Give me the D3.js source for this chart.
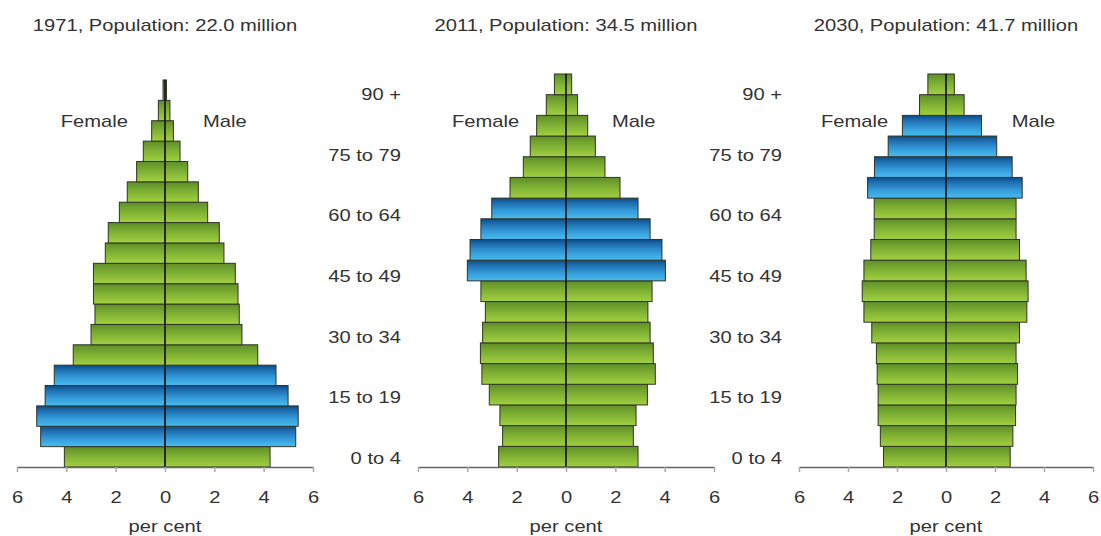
<!DOCTYPE html>
<html>
<head>
<meta charset="utf-8">
<script src="https://cdn.jsdelivr.net/npm/d3@7/dist/d3.min.js"></script>
<style>
  html, body { margin: 0; padding: 0; background: #fff; }
  svg { display: block; }
  text { font-family: "Liberation Sans", Arial, Helvetica, sans-serif; fill: #333; }
</style>
</head>
<body>
<svg id="chart" width="1101" height="536"></svg>
<script>
// ---------------- DATA ----------------
const ageGroups = ["0 to 4","5 to 9","10 to 14","15 to 19","20 to 24","25 to 29","30 to 34","35 to 39",
  "40 to 44","45 to 49","50 to 54","55 to 59","60 to 64","65 to 69","70 to 74","75 to 79","80 to 84","85 to 89","90 +"];
const ageTickLabels = ["0 to 4","15 to 19","30 to 34","45 to 49","60 to 64","75 to 79","90 +"];
const xTickValues = [-6,-4,-2,0,2,4,6];

const titles = ["1971, Population: 22.0 million","2011, Population: 34.5 million","2030, Population: 41.7 million"];

const female1971 = [4.08,5.04,5.20,4.86,4.49,3.72,3.00,2.84,2.90,2.90,2.42,2.30,1.85,1.53,1.15,0.88,0.54,0.27,0.08];
const male1971   = [4.26,5.30,5.40,4.99,4.50,3.76,3.12,3.01,2.96,2.85,2.39,2.20,1.73,1.35,0.92,0.61,0.34,0.20,0.06];
const female2011 = [2.73,2.57,2.68,3.11,3.41,3.47,3.38,3.27,3.45,4.00,3.89,3.45,3.01,2.27,1.73,1.45,1.19,0.80,0.47];
const male2011   = [2.92,2.73,2.84,3.30,3.62,3.54,3.41,3.32,3.49,4.03,3.89,3.41,2.92,2.19,1.58,1.19,0.88,0.47,0.23];
const female2030 = [2.55,2.68,2.77,2.77,2.81,2.84,3.03,3.35,3.42,3.35,3.07,2.93,2.93,3.20,2.92,2.36,1.78,1.08,0.74];
const male2030   = [2.62,2.73,2.84,2.86,2.92,2.86,3.00,3.30,3.35,3.27,3.00,2.86,2.86,3.11,2.70,2.07,1.45,0.74,0.34];

// baby-boom cohort highlighted in blue
const boom1971 = ["5 to 9","10 to 14","15 to 19","20 to 24"];
const boom2011 = ["45 to 49","50 to 54","55 to 59","60 to 64"];
const boom2030 = ["65 to 69","70 to 74","75 to 79","80 to 84"];

// ---------------- LAYOUT ----------------
const panels = [
  {title: titles[0], female: female1971, male: male1971, boom: boom1971, x0: 17, x1: 313, top: 80, yLabels: false, fLab: -1.5, mLab: 1.54},
  {title: titles[1], female: female2011, male: male2011, boom: boom2011, x0: 418, x1: 714, top: 74, yLabels: true, fLab: -1.9, mLab: 1.86},
  {title: titles[2], female: female2030, male: male2030, boom: boom2030, x0: 799, x1: 1093, top: 74, yLabels: true, fLab: -2.36, mLab: 2.68}
];
const bottom = 467;
const SX = 1.26;       // horizontal text stretch of the reference
const FS = 16;

const svg = d3.select("#chart");
const defs = svg.append("defs");

function grad(id, stops) {
  const g = defs.append("linearGradient").attr("id", id)
    .attr("x1", 0).attr("y1", 0).attr("x2", 0).attr("y2", 1);
  stops.forEach(s => g.append("stop").attr("offset", s[0]).attr("stop-color", s[1]));
}
grad("gGreen", [[0, "#5f8e28"], [0.45, "#7daf33"], [1, "#a2d040"]]);
grad("gBlue",  [[0, "#0a4a85"], [0.2, "#1c69ab"], [0.6, "#3499d8"], [1, "#48bcf0"]]);

function stext(g, x, y, str, anchor) {
  return g.append("text")
    .attr("transform", `translate(${x},${y}) scale(${SX},1)`)
    .attr("text-anchor", anchor || "middle")
    .style("font-size", FS + "px")
    .text(str);
}

const yLab = d3.scaleBand().domain(ageGroups).range([469, 85]);

panels.forEach(p => {
  const g = svg.append("g");
  const x = d3.scaleLinear().domain([-6, 6]).range([p.x0, p.x1]);
  const y = d3.scaleBand().domain(ageGroups).range([bottom, p.top]);
  const rows = ageGroups.map((a, i) => ({age: a, f: p.female[i], m: p.male[i], boom: p.boom.includes(a)}));

  // title
  stext(g, x(0), 31, p.title);

  // bars
  const bars = g.append("g");
  bars.selectAll("rect.f").data(rows).join("rect").attr("class", "f")
    .attr("x", d => x(-d.f)).attr("width", d => x(0) - x(-d.f))
    .attr("y", d => y(d.age)).attr("height", y.bandwidth())
    .attr("fill", d => d.boom ? "url(#gBlue)" : "url(#gGreen)")
    .attr("stroke", "#2e3524").attr("stroke-width", 1);
  bars.selectAll("rect.m").data(rows).join("rect").attr("class", "m")
    .attr("x", x(0)).attr("width", d => x(d.m) - x(0))
    .attr("y", d => y(d.age)).attr("height", y.bandwidth())
    .attr("fill", d => d.boom ? "url(#gBlue)" : "url(#gGreen)")
    .attr("stroke", "#2e3524").attr("stroke-width", 1);

  // centre line
  g.append("line").attr("x1", x(0)).attr("x2", x(0))
    .attr("y1", p.top).attr("y2", bottom)
    .attr("stroke", "#1a1a1a").attr("stroke-width", 1.5);

  // x axis
  const ax = g.append("g").attr("transform", `translate(0,${bottom})`)
    .call(d3.axisBottom(x).tickValues(xTickValues).tickFormat(d => Math.abs(d))
      .tickSize(5).tickSizeOuter(0).tickPadding(20));
  ax.select(".domain").attr("stroke", "#666").attr("stroke-width", 1.6);
  ax.selectAll(".tick line").attr("stroke", "#aaa").attr("stroke-width", 1.5);
  ax.selectAll(".tick text").attr("transform", `scale(${SX},1)`)
    .style("font-size", FS + "px").style("font-family", "Liberation Sans, Arial, sans-serif").attr("fill", "#333");

  stext(g, x(0), 532, "per cent");

  // sex labels
  stext(g, x(p.fLab), 127, "Female", "end");
  stext(g, x(p.mLab), 127, "Male", "start");

  // y axis labels
  if (p.yLabels) {
    const ay = g.append("g").attr("transform", `translate(${p.x0},0)`)
      .call(d3.axisLeft(yLab).tickValues(ageTickLabels).tickSize(0).tickPadding(13.5));
    ay.select(".domain").remove();
    ay.selectAll(".tick text").attr("transform", `scale(${SX},1)`)
      .style("font-size", FS + "px").style("font-family", "Liberation Sans, Arial, sans-serif").attr("fill", "#333");
  }
});
</script>
</body>
</html>
